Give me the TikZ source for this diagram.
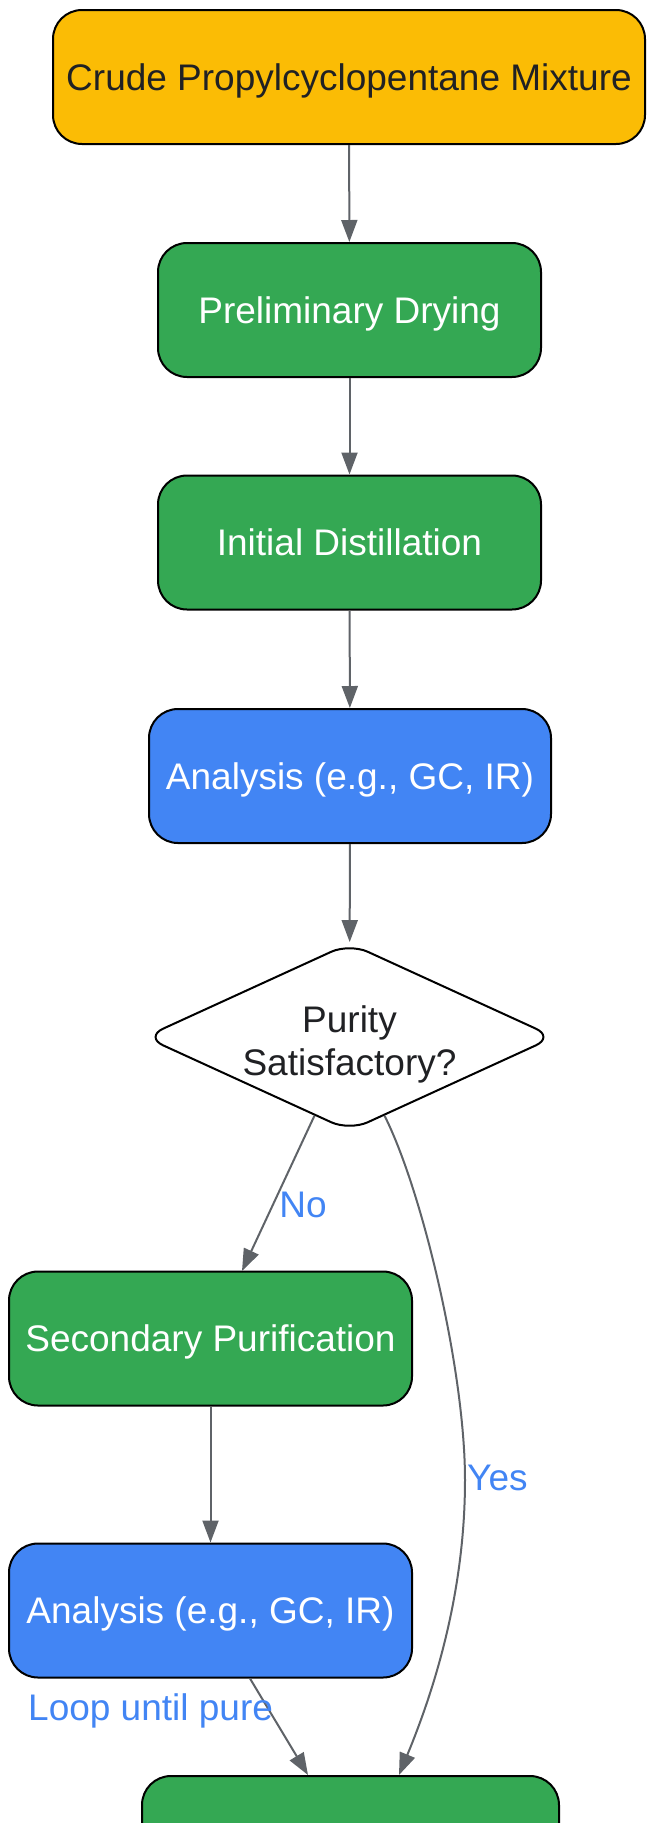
\documentclass[tikz,border=0pt]{standalone}
\usepackage{fontspec}
\setmainfont{Liberation Sans}
\usetikzlibrary{shapes.geometric,arrows.meta}
\definecolor{gyellow}{HTML}{FBBC05}
\definecolor{ggreen}{HTML}{34A853}
\definecolor{gblue}{HTML}{4285F4}
\definecolor{gtext}{HTML}{202124}
\definecolor{garrow}{HTML}{5F6368}
\tikzset{
  box/.style={draw=black, line width=2pt, rounded corners=29pt, minimum height=134pt, inner sep=0pt, text height=26.5pt, text depth=0pt, font=\fontsize{37}{44}\selectfont},
  yellowbox/.style={box, fill=gyellow, text=gtext},
  greenbox/.style={box, fill=ggreen, text=white},
  bluebox/.style={box, fill=gblue, text=white},
  decision/.style={diamond, draw=black, line width=2pt, rounded corners=20pt, fill=white, minimum width=410pt, minimum height=188pt, inner sep=0pt, aspect=2.18},
  dectext/.style={text=gtext, align=center, font=\fontsize{37}{43}\selectfont},
  conn/.style={draw=garrow, line width=2pt, -{Triangle[length=22pt,width=16pt]}},
  elabel/.style={text=gblue, font=\fontsize{37}{44}\selectfont, inner sep=0pt}
}
\begin{document}
\begin{tikzpicture}[x=1pt,y=-1pt]
\useasboundingbox (0,0) rectangle (646,1823);
\node[yellowbox, minimum width=592pt] (crude) at (349,77) {Crude Propylcyclopentane Mixture};
\node[greenbox, minimum width=383pt] (dry) at (349.5,310) {Preliminary Drying};
\node[greenbox, minimum width=383pt] (dist) at (349.5,542.5) {Initial Distillation};
\node[bluebox, minimum width=402pt] (an1) at (350,776) {Analysis (e.g., GC, IR)};
\node[decision] (dec) at (349.5,1037) {};
\node[dectext] (dect) at (349.5,1044) {Purity\\Satisfactory?};
\node[greenbox, minimum width=403pt] (sec) at (210.5,1338.5) {Secondary Purification};
\node[bluebox, minimum width=403pt] (an2) at (210.5,1610.5) {Analysis (e.g., GC, IR)};
\node[greenbox, minimum width=417pt, anchor=north] (fin) at (350.5,1775) {};
\coordinate (ymid) at (465,1480);
\coordinate (yend) at (399,1775);
\coordinate (lend) at (308,1775);
\coordinate (nend) at (242,1271);

\draw[conn] (crude) -- (dry);
\draw[conn] (dry) -- (dist);
\draw[conn] (dist) -- (an1);
\draw[conn] (an1) -- (dec);
\draw[conn] (dec.246) -- (nend);
\draw[conn] (sec) -- (an2);
\draw[conn] (an2.south -| 250,0) -- (lend);
\draw[conn] (dec.294) .. controls (422,1190) and (465,1370) .. (ymid) .. controls (465,1600) and (430,1700) .. (yend);

\node[elabel] (lno) at (303,1205) {No};
\node[elabel, anchor=west] (lyes) at (467,1478) {Yes};
\node[elabel, anchor=west] (lloop) at (28,1711) {Loop until pure};
\end{tikzpicture}
\end{document}
